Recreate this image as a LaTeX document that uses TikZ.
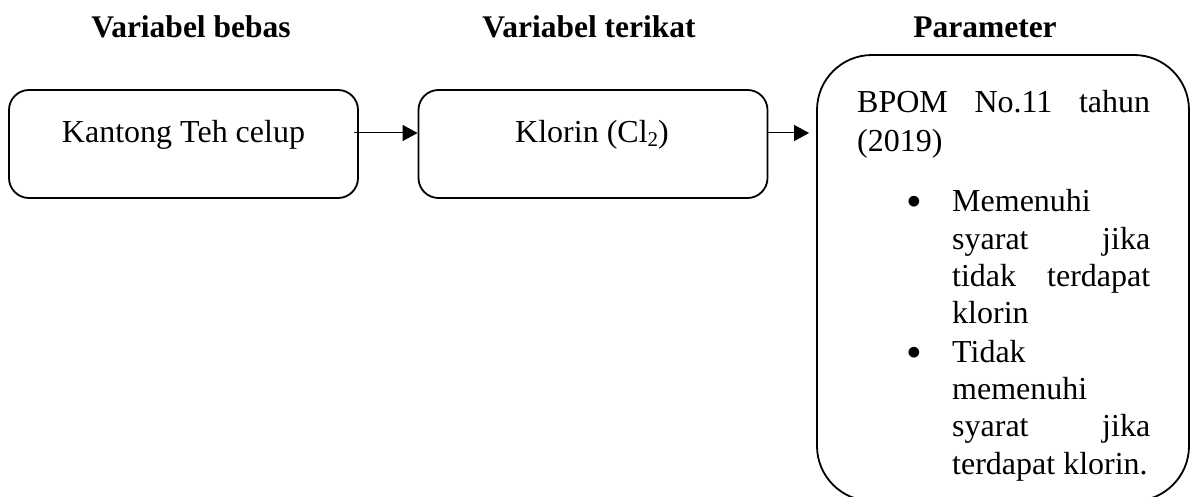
\documentclass[tikz,border=0pt]{standalone}
\usepackage{fontspec}
\setmainfont{Liberation Serif}
\usetikzlibrary{arrows.meta,calc}
\newcommand{\bul}{\raisebox{-5pt}{\scalebox{1.4}{\textbullet}}}
\begin{document}
\begin{tikzpicture}[x=1pt,y=-1pt,
  every node/.style={font=\fontsize{32}{37.3}\selectfont},
  box/.style={draw, line width=1.8pt, rounded corners=20pt, minimum width=349pt, minimum height=108pt, inner sep=0pt},
  bigbox/.style={draw, line width=1.8pt, rounded corners=55pt, minimum width=372pt, minimum height=446pt, inner sep=0pt},
  head/.style={anchor=base, font=\fontsize{31.5}{37}\selectfont\bfseries},
  conn/.style={line width=1pt, -{Triangle[length=15pt,width=16pt]}}
]
\useasboundingbox (0,0) rectangle (1195,497);
\clip (0,0) rectangle (1195,497);
% headers
\node[head] (h1) at (191,38) {Variabel bebas};
\node[head] (h2) at (589,38) {Variabel terikat};
\node[head] (h3) at (985,38) {Parameter};
% boxes
\node[box] (b1) at (183.5,144) {};
\node[box] (b2) at (593,144) {};
\node[bigbox] (b3) at (1003,278) {};
\node[anchor=base, inner sep=0pt] (t1) at (183.5,143) {Kantong Teh celup};
\node[anchor=base, inner sep=0pt] (t2) at (592,143) {Klorin (Cl\raisebox{-0.12em}{\fontsize{21}{24}\selectfont 2})};
% parameter text
\node[anchor=base west, inner sep=0pt] (t3) at (857,113) {\parbox[t]{293pt}{%
  \fontsize{32}{37.3}\selectfont
  \makebox[\linewidth][s]{BPOM No.11 tahun}\\[1.7pt]
  (2019)\\[22.7pt]
  \hspace*{49pt}\makebox[46pt][l]{\bul}\parbox[t]{198pt}{%
    Memenuhi\\
    \makebox[\linewidth][s]{syarat jika}\\
    \makebox[\linewidth][s]{tidak terdapat}\\
    klorin\strut}\\
  \strut\hspace*{49pt}\makebox[46pt][l]{\bul}\parbox[t]{198pt}{%
    Tidak\\
    memenuhi\\
    \makebox[\linewidth][s]{syarat jika}\\
    terdapat klorin.\strut}}};
% connectors
\coordinate (a1) at ($(b1.east)+(-5,-11)$);
\coordinate (a2) at ($(b2.east)+(0,-11)$);
\draw[conn] (a1) -- (a1 -| b2.west);
\draw[conn, shorten >=7pt] (a2) -- (a2 -| b3.west);
\end{tikzpicture}
\end{document}
